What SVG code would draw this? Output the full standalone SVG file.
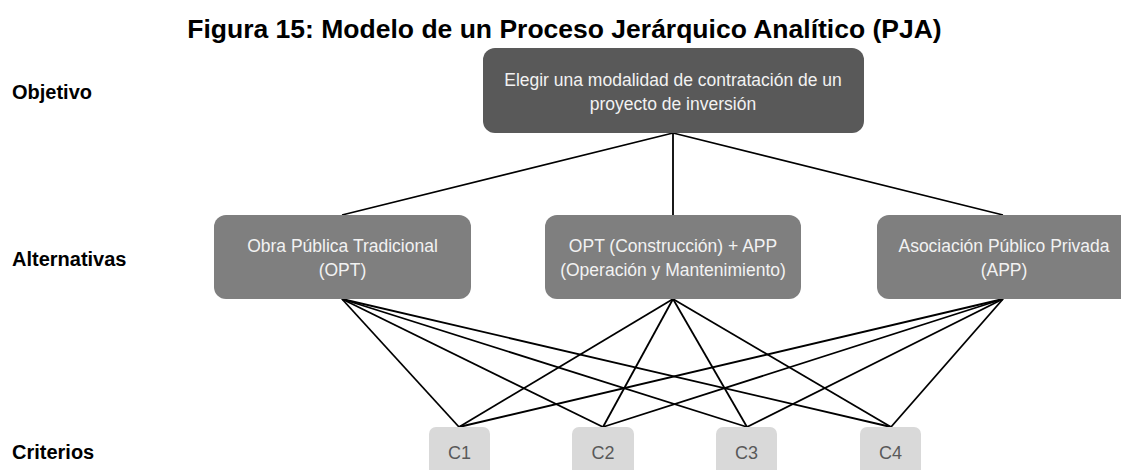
<svg xmlns="http://www.w3.org/2000/svg" width="1121" height="470" viewBox="0 0 1121 470">
<style>
.title{font-family:"Liberation Sans",Arial,sans-serif;font-weight:bold;font-size:26.5px;fill:#000}
.lvl{font-family:"Liberation Sans",Arial,sans-serif;font-weight:bold;font-size:20px;fill:#000}
.bt{font-family:"Liberation Sans",Arial,sans-serif;font-size:17.5px;fill:#f2f2f2;text-anchor:middle}
.ct{font-family:"Liberation Sans",Arial,sans-serif;font-size:18px;fill:#595959;text-anchor:middle}
.conn line{stroke:#000;stroke-width:1.8}
</style>
<rect width="1121" height="470" fill="#fff"/>
<text class="title" x="564.5" y="38" text-anchor="middle">Figura 15: Modelo de un Proceso Jerárquico Analítico (PJA)</text>
<g id="labels">
<text class="lvl" x="12" y="99">Objetivo</text>
<text class="lvl" x="12" y="266">Alternativas</text>
<text class="lvl" x="12" y="459">Criterios</text>
</g>
<g class="conn" id="connectors">
<line x1="673" y1="133" x2="342" y2="215"/>
<line x1="673" y1="133" x2="673" y2="215"/>
<line x1="673" y1="133" x2="1003" y2="215"/>
<line x1="342" y1="299" x2="459" y2="427"/>
<line x1="342" y1="299" x2="603" y2="427"/>
<line x1="342" y1="299" x2="747" y2="427"/>
<line x1="342" y1="299" x2="891" y2="427"/>
<line x1="673" y1="299" x2="459" y2="427"/>
<line x1="673" y1="299" x2="603" y2="427"/>
<line x1="673" y1="299" x2="747" y2="427"/>
<line x1="673" y1="299" x2="891" y2="427"/>
<line x1="1003" y1="299" x2="459" y2="427"/>
<line x1="1003" y1="299" x2="603" y2="427"/>
<line x1="1003" y1="299" x2="747" y2="427"/>
<line x1="1003" y1="299" x2="891" y2="427"/>
</g>
<g id="objetivo">
<rect x="483" y="48" width="381" height="85" rx="12" fill="#595959"/>
<text class="bt" x="673" y="86">Elegir una modalidad de contratación de un</text>
<text class="bt" x="673" y="110">proyecto de inversión</text>
</g>
<g id="alt-opt">
<rect x="214" y="215" width="257" height="84" rx="12" fill="#7f7f7f"/>
<text class="bt" x="342.5" y="252">Obra Pública Tradicional</text>
<text class="bt" x="342.5" y="276">(OPT)</text>
</g>
<g id="alt-mixta">
<rect x="545" y="215" width="256" height="84" rx="12" fill="#7f7f7f"/>
<text class="bt" x="673" y="252">OPT (Construcción) + APP</text>
<text class="bt" x="673" y="276">(Operación y Mantenimiento)</text>
</g>
<g id="alt-app">
<rect x="877" y="215" width="256" height="84" rx="12" fill="#7f7f7f"/>
<text class="bt" x="1004" y="252">Asociación Público Privada</text>
<text class="bt" x="1004" y="276">(APP)</text>
</g>
<g id="c1"><rect x="429" y="427" width="61" height="55" rx="7" fill="#d9d9d9"/><text class="ct" x="459.5" y="459">C1</text></g>
<g id="c2"><rect x="572" y="427" width="62" height="55" rx="7" fill="#d9d9d9"/><text class="ct" x="603" y="459">C2</text></g>
<g id="c3"><rect x="716" y="427" width="61" height="55" rx="7" fill="#d9d9d9"/><text class="ct" x="746.5" y="459">C3</text></g>
<g id="c4"><rect x="860" y="427" width="61" height="55" rx="7" fill="#d9d9d9"/><text class="ct" x="890.5" y="459">C4</text></g>
</svg>
